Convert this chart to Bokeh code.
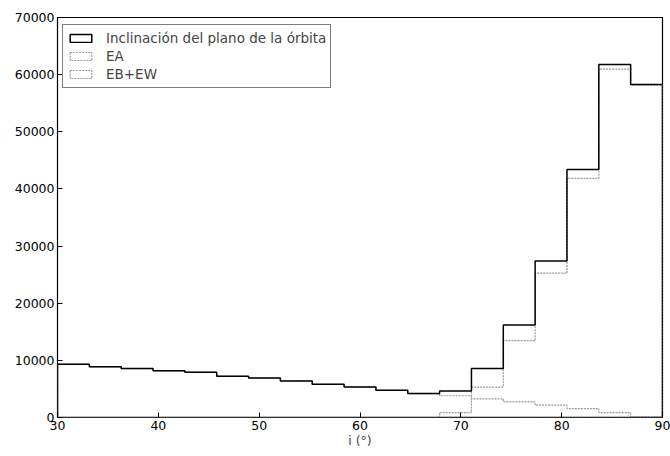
from bokeh.plotting import figure
from bokeh.models import Range1d, FixedTicker, Legend, LegendItem
from bokeh.embed import file_html
from bokeh.resources import INLINE
import numpy as np

# Histogram of orbital-plane inclination, 19 equal bins from 30 to 90 degrees
bin_edges = list(np.linspace(30, 90, 20))

total = [9330, 8860, 8560, 8160, 7930, 7230, 6930, 6400, 5820, 5350,
         4770, 4180, 4650, 8560, 16180, 27400, 43420, 61790, 58280]
ea = [0, 0, 0, 0, 0, 0, 0, 0, 0, 0,
      0, 0, 840, 5300, 13450, 25250, 41850, 60950, 58150]
ebew = [9330, 8860, 8560, 8160, 7930, 7230, 6930, 6400, 5820, 5350,
        4770, 4180, 3810, 3260, 2730, 2150, 1570, 840, 130]

x_ticks = [30, 40, 50, 60, 70, 80, 90]
y_ticks = [0, 10000, 20000, 30000, 40000, 50000, 60000, 70000]

FONT = "DejaVu Sans"


def outline(edges, counts):
    """Step outline of a histogram (closed at the baseline)."""
    xs, ys = [edges[0]], [0]
    for i, c in enumerate(counts):
        xs += [edges[i], edges[i + 1]]
        ys += [c, c]
    xs.append(edges[-1])
    ys.append(0)
    return xs, ys


p = figure(width=670, height=456, output_backend="svg", toolbar_location=None,
           x_range=Range1d(30, 90), y_range=Range1d(0, 70000),
           min_border_left=57, min_border_right=8, min_border_top=17,
           min_border_bottom=39)
p.background_fill_color = "white"
p.border_fill_color = "white"
p.grid.visible = False
p.outline_line_color = "black"
p.outline_line_width = 1.2

series = [
    ("Inclinación del plano de la órbita", total, "black", "solid", 1.5),
    ("EA", ea, "#9a9a9a", "2 1", 1.2),
    ("EB+EW", ebew, "#9a9a9a", "2 1", 1.2),
]

items = []
renderers = []
for label, counts, color, dash, lw in series:
    xs, ys = outline(bin_edges, counts)
    r = p.patch(xs, ys, fill_alpha=0, line_color=color, line_dash=dash,
                line_width=lw)
    renderers.append(r)
    items.append(LegendItem(label=label, renderers=[r]))

# draw the total on top of the class outlines
p.renderers = renderers[1:] + renderers[:1]

legend = Legend(items=items, location=(5, 329))
legend.label_text_font = FONT
legend.label_text_font_size = "13.5px"
legend.border_line_color = "black"
legend.border_line_width = 1
legend.glyph_width = 27
legend.glyph_height = 10
legend.label_height = 18
legend.spacing = 0
legend.padding = 4
legend.margin = 0
legend.label_standoff = 12
legend.background_fill_alpha = 1
p.add_layout(legend)

p.xaxis.ticker = FixedTicker(ticks=x_ticks)
p.yaxis.ticker = FixedTicker(ticks=y_ticks)
for ax in (p.xaxis[0], p.yaxis[0]):
    ax.major_label_text_font = FONT
    ax.major_label_text_font_size = "12.5px"
    ax.major_label_text_color = "black"
    ax.axis_line_color = None
    ax.major_tick_in = 5
    ax.major_tick_out = 0
    ax.minor_tick_line_color = None
    ax.major_label_standoff = 3

p.xaxis.axis_label = "i (°)"
p.xaxis.axis_label_text_font = FONT
p.xaxis.axis_label_text_font_style = "normal"
p.xaxis.axis_label_text_font_size = "12.5px"
p.xaxis.axis_label_standoff = 0

open("out.html", "w").write(file_html(p, INLINE))
